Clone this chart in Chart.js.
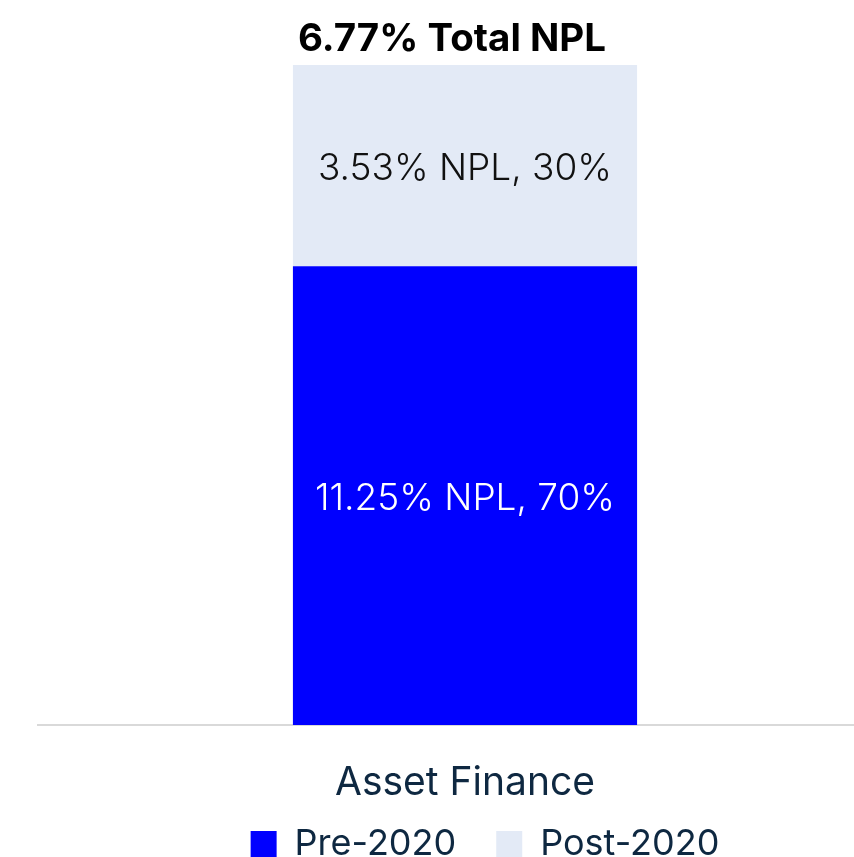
<!DOCTYPE html>
<html>
<head>
<meta charset="utf-8">
<script src="https://cdn.jsdelivr.net/npm/chart.js@4"></script>
<style>
  html, body { margin: 0; padding: 0; background: #fff; overflow: hidden; }
  #wrap { width: 854px; height: 857px; overflow: hidden; position: relative; }
  #c { display: block; }
</style>
</head>
<body>
<div id="wrap"><canvas id="c" width="970" height="872" style="width:970px;height:872px"></canvas></div>
<script>
const categories = ['Asset Finance'];
const seriesNames = ['Pre-2020', 'Post-2020'];
const sharePre = [69.5];
const sharePost = [30.5];
const shareLabelPre = ['70%'];
const shareLabelPost = ['30%'];
const nplPre = ['11.25%'];
const nplPost = ['3.53%'];
const chartTitle = '6.77% Total NPL';

const FONT = 'Inter, "Noto Sans", sans-serif';
const NAVY = '#0E2841';

const barLabels = {
  id: 'barLabels',
  afterDatasetsDraw(chart) {
    const ctx = chart.ctx;
    ctx.save();
    ctx.font = '300 37px ' + FONT;
    ctx.textAlign = 'center';
    ctx.textBaseline = 'alphabetic';
    chart.data.datasets.forEach((ds, di) => {
      const meta = chart.getDatasetMeta(di);
      meta.data.forEach((el, i) => {
        const cy = (el.y + el.base) / 2;
        ctx.fillStyle = ds.labelColor;
        ctx.fillText(ds.npl[i] + ' NPL, ' + ds.shareLabels[i], el.x, cy + 14.5);
      });
    });
    ctx.restore();
  }
};

const topTitle = {
  id: 'topTitle',
  afterDraw(chart) {
    const ctx = chart.ctx;
    ctx.save();
    ctx.font = '700 38.5px ' + FONT;
    ctx.fillStyle = '#000';
    ctx.textAlign = 'center';
    ctx.textBaseline = 'alphabetic';
    ctx.fillText(chartTitle, 452, 51);
    ctx.restore();
  }
};

new Chart(document.getElementById('c'), {
  type: 'bar',
  data: {
    labels: categories,
    datasets: [
      { label: seriesNames[0], data: sharePre, npl: nplPre, shareLabels: shareLabelPre,
        backgroundColor: '#0000FF', labelColor: '#FFFFFF',
        categoryPercentage: 1, barPercentage: 0.403 },
      { label: seriesNames[1], data: sharePost, npl: nplPost, shareLabels: shareLabelPost,
        backgroundColor: '#E3EAF6', labelColor: '#111111',
        categoryPercentage: 1, barPercentage: 0.403 }
    ]
  },
  options: {
    responsive: false,
    animation: false,
    layout: { padding: { top: 65, left: 0, right: 0, bottom: 0 } },
    plugins: {
      title: { display: false },
      tooltip: { enabled: false },
      legend: {
        position: 'bottom',
        labels: {
          font: { family: FONT, size: 36 },
          color: NAVY,
          boxWidth: 26,
          boxHeight: 26,
          padding: 40
        }
      }
    },
    scales: {
      x: {
        stacked: true,
        grid: { display: false },
        border: { display: true, color: '#D9D9D9', width: 2 },
        ticks: { font: { family: FONT, size: 39 }, color: NAVY, mirror: true, padding: -82 },
        afterFit(s) { s.height = 61; }
      },
      y: {
        stacked: true,
        min: 0, max: 100,
        grid: { display: false },
        border: { display: false },
        ticks: { display: false },
        afterFit(s) { s.width = 38; }
      },
      y2: {
        position: 'right',
        min: 0, max: 1,
        grid: { display: false },
        border: { display: false },
        ticks: { display: false },
        afterFit(s) { s.width = 78; }
      }
    }
  },
  plugins: [barLabels, topTitle]
});
</script>
</body>
</html>
